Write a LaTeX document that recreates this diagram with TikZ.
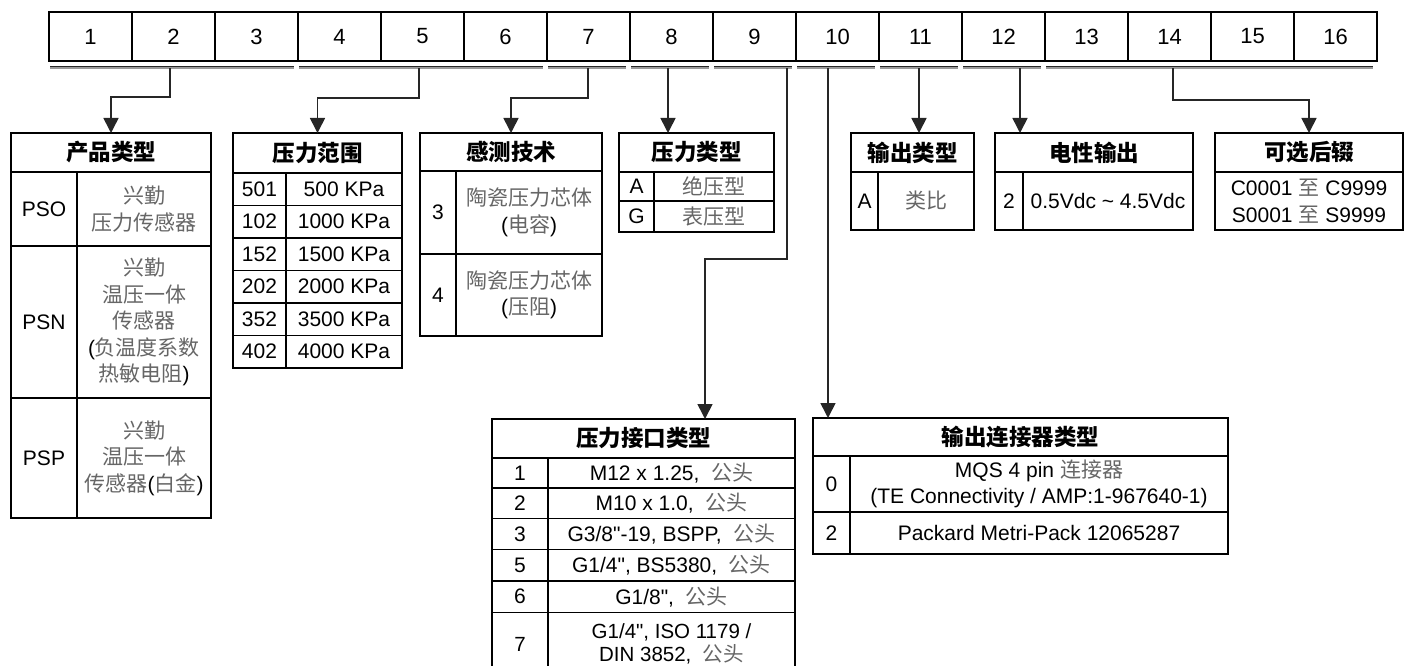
\documentclass[tikz,border=0pt]{standalone}
\usepackage{fontspec}
\setmainfont{Liberation Sans}
\newfontfamily\cjk{Noto Sans CJK SC}
\usetikzlibrary{arrows.meta}
\newcommand\zh[1]{{\cjk\color{black!60}#1}}
\newcommand\zb[1]{{\cjk\bfseries #1}}
\newcommand\qd{\textquotedbl}
\newcommand\tcellx[7][tcell]{%
  \pgfmathsetmacro\tcw{(#5)-(#3)}\pgfmathsetmacro\tch{(#6)-(#4)}%
  \node[#1,minimum width=\tcw pt,minimum height=\tch pt] (#2) at ({((#3)+(#5))/2},{((#4)+(#6))/2}) {#7};}
\tikzset{
  tcell/.style={draw=black,line width=1.8pt,inner sep=0pt,outer sep=0pt,align=center,
    font=\fontsize{21}{26.5}\selectfont,text=black},
  tightcell/.style={tcell,font=\fontsize{20.5}{23}\selectfont},
  thead/.style={tcell,font=\fontsize{22.5}{27}\selectfont},
  numcell/.style={tcell,font=\fontsize{22}{26}\selectfont},
  conn/.style={line width=1.6pt,draw=black!85,-{Triangle[length=15pt,width=15pt]}},
}
\begin{document}
\begin{tikzpicture}[x=1pt,y=-1pt]
\useasboundingbox (0,0) rectangle (1405,666);
% top row
\foreach \i in {1,...,16}{
  \tcellx[numcell]{c\i}{49+(\i-1)*83}{12}{49+\i*83}{61}{\i}
}
% group lines
\foreach \a/\b in {0/3,3/6,6/7,7/8,8/9,9/10,10/11,11/12,12/16}{
  \coordinate (ga\a) at ({49+\a*83+1},67.4);
  \coordinate (gb\a) at ({49+\b*83-4},67.4);
  \draw[line width=2.4pt,black!40] (ga\a) -- (gb\a);
  \draw[line width=0.9pt,black!85] ([yshift=0.8pt]ga\a) -- ([yshift=0.8pt]gb\a);
}
\coordinate (d2) at (170,68);
\coordinate (d5) at (419,68);
\coordinate (d7) at (588,68);
\coordinate (d8) at (668,68);
\coordinate (d9) at (787,68);
\coordinate (d10) at (828,68);
\coordinate (d11) at (919,68);
\coordinate (d12) at (1020,68);
\coordinate (d14) at (1173,68);
\coordinate (x705) at (705,0);

% T1 product type
\tcellx[thead]{h1}{11}{133}{211}{172}{\zb{产品类型}}
\tcellx{t1a1}{11}{172}{77}{246}{PSO}
\tcellx{t1b1}{77}{172}{211}{246}{\zh{兴勤}\\\zh{压力传感器}}
\tcellx{t1a2}{11}{246}{77}{398}{PSN}
\tcellx{t1b2}{77}{246}{211}{398}{\zh{兴勤}\\\zh{温压一体}\\\zh{传感器}\\(\zh{负温度系数}\\\zh{热敏电阻})}
\tcellx{t1a3}{11}{398}{77}{518}{PSP}
\tcellx{t1b3}{77}{398}{211}{518}{\zh{兴勤}\\\zh{温压一体}\\\zh{传感器}(\zh{白金})}

% T2 pressure range
\tcellx[thead]{h2}{233}{133}{402}{173}{\zb{压力范围}}
\foreach \k/\v [count=\n from 0] in {501/500,102/1000,152/1500,202/2000,352/3500,402/4000}{
  \tcellx{t2a\n}{233}{173+\n*32.5}{286}{205.5+\n*32.5}{\k}
  \tcellx{t2b\n}{286}{173+\n*32.5}{402}{205.5+\n*32.5}{\v\ KPa}
}

% T3 sensing technology
\tcellx[thead]{h3}{420}{133}{602}{171}{\zb{感测技术}}
\tcellx{t3a1}{420}{171}{456}{254}{3}
\tcellx{t3b1}{456}{171}{602}{254}{\zh{陶瓷压力芯体}\\(\zh{电容})}
\tcellx{t3a2}{420}{254}{456}{336}{4}
\tcellx{t3b2}{456}{254}{602}{336}{\zh{陶瓷压力芯体}\\(\zh{压阻})}

% T4 pressure type
\tcellx[thead]{h4}{619}{133}{774}{172}{\zb{压力类型}}
\tcellx{t4a1}{619}{172}{654}{201}{A}
\tcellx{t4b1}{654}{172}{774}{201}{\zh{绝压型}}
\tcellx{t4a2}{619}{201}{654}{232}{G}
\tcellx{t4b2}{654}{201}{774}{232}{\zh{表压型}}

% T5 output type
\tcellx[thead]{h5}{851}{133}{974}{172}{\zb{输出类型}}
\tcellx{t5a}{851}{172}{878}{230}{A}
\tcellx{t5b}{878}{172}{974}{230}{\zh{类比}}

% T6 electrical output
\tcellx[thead]{h6}{995}{133}{1193}{172}{\zb{电性输出}}
\tcellx{t6a}{995}{172}{1023}{230}{2}
\tcellx{t6b}{1023}{172}{1193}{230}{0.5Vdc \textasciitilde{} 4.5Vdc}

% T7 optional suffix
\tcellx[thead]{h7}{1215}{133}{1403}{172}{\zb{可选后辍}}
\tcellx{t7}{1215}{172}{1403}{230}{C0001 \zh{至} C9999\\S0001 \zh{至} S9999}

% T8 pressure port type
\tcellx[thead]{h8}{492}{419}{795}{458}{\zb{压力接口类型}}
\foreach \k/\ya/\yb/\v in {1/458/488/{M12 x 1.25,\ \ \zh{公头}},2/488/518.5/{M10 x 1.0,\ \ \zh{公头}},3/518.5/549.5/{G3/8\qd-19, BSPP,\ \ \zh{公头}},5/549.5/581/{G1/4\qd, BS5380,\ \ \zh{公头}},6/581/612.5/{G1/8\qd,\ \ \zh{公头}}}{
  \tcellx{t8a\k}{492}{\ya}{548}{\yb}{\k}
  \tcellx{t8b\k}{548}{\ya}{795}{\yb}{\v}
}
\tcellx[tightcell]{t8a7}{492}{612.5}{548}{676}{7}
\tcellx[tightcell]{t8b7}{548}{612.5}{795}{676}{G1/4\qd, ISO 1179 /\\DIN 3852,\ \ \zh{公头}}

% T9 output connector type
\tcellx[thead]{h9}{813}{418}{1228}{456}{\zb{输出连接器类型}}
\tcellx{t9a1}{813}{456}{850}{512}{0}
\tcellx{t9b1}{850}{456}{1228}{512}{MQS 4 pin \zh{连接器}\\(TE Connectivity / AMP:1-967640-1)}
\tcellx{t9a2}{813}{512}{850}{554}{2}
\tcellx{t9b2}{850}{512}{1228}{554}{Packard Metri-Pack 12065287}

% connectors
\draw[conn] (d2) -- ++(0,29) -| (h1.north);
\draw[conn] (d5) -- ++(0,30) -| (h2.north);
\draw[conn] (d7) -- ++(0,30) -| (h3.north);
\draw[conn] (d8) -- (d8 |- h4.north);
\draw[conn] (d9) -- ++(0,191) -| (h8.north -| x705);
\draw[conn] (d10) -- (d10 |- h9.north);
\draw[conn] (d11) -- (d11 |- h5.north);
\draw[conn] (d12) -- (d12 |- h6.north);
\draw[conn] (d14) -- ++(0,32) -| (h7.north);
\end{tikzpicture}
\end{document}
